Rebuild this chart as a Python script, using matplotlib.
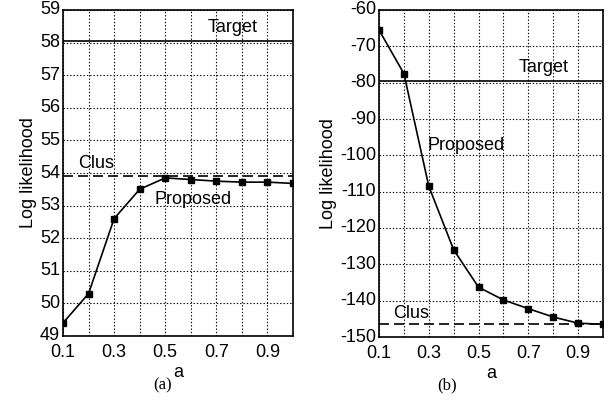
import matplotlib.pyplot as plt
import matplotlib.transforms as mtransforms
import numpy as np

plt.rcParams['font.family'] = ['Liberation Sans', 'DejaVu Sans']
plt.rcParams['axes.unicode_minus'] = False

a = [0.1, 0.2, 0.3, 0.4, 0.5, 0.6, 0.7, 0.8, 0.9, 1.0]
proposed_a = [49.4, 50.3, 52.6, 53.5, 53.85, 53.8, 53.75, 53.72, 53.72, 53.68]
target_a = 58.05
clus_a = 53.9
proposed_b = [-65.5, -77.5, -108.5, -126.0, -136.3, -139.8, -142.2, -144.5, -146.2, -146.5]
target_b = -79.5
clus_b = -146.3

fig = plt.figure(figsize=(6.12, 4.01), dpi=100)
ax1 = fig.add_axes([63/612, 1-336/401, 230/612, 326/401])
ax2 = fig.add_axes([379/612, 1-337/401, 224/612, 327/401])

def style(ax, ylim, ystep):
    ax.set_xlim(0.1, 1.0)
    ax.set_ylim(*ylim)
    ax.set_xticks([0.1, 0.3, 0.5, 0.7, 0.9])
    ax.set_xticklabels(['0.1', '0.3', '0.5', '0.7', '0.9'])
    ax.set_xticks(np.arange(0.2, 1.0, 0.2), minor=True)
    ax.set_yticks(np.arange(ylim[0], ylim[1] + ystep / 2, ystep))
    ax.tick_params(which='both', direction='in', labelsize=13, length=0)
    ax.tick_params(axis='x', pad=6)
    ax.tick_params(axis='y', pad=2)
    # nudge y tick labels up a little so the bottom one clears the x labels
    off = mtransforms.ScaledTranslation(0, 2/100, fig.dpi_scale_trans)
    for lab in ax.get_yticklabels():
        lab.set_transform(lab.get_transform() + off)
    ax.grid(True, which='both', color='k', linestyle=(0, (1.2, 1.8)), linewidth=0.8)
    for s in ax.spines.values():
        s.set_linewidth(1.2)
    ax.set_xlabel('a', fontsize=13, labelpad=2)
    ax.set_ylabel('Log likelihood', fontsize=13, labelpad=2)

style(ax1, (49, 59), 1)
style(ax2, (-150, -60), 10)

ax1.plot(a, proposed_a, 'k-', marker='s', markersize=5, linewidth=1.2)
ax1.axhline(target_a, color='k', linewidth=1.2)
ax1.axhline(clus_a, color='k', linewidth=1.2, linestyle=(0, (6, 3)))
ax1.text(0.765, 58.45, 'Target', fontsize=13, ha='center', va='center')
ax1.text(0.23, 54.3, 'Clus', fontsize=13, ha='center', va='center')
ax1.text(0.61, 53.2, 'Proposed', fontsize=13, ha='center', va='center')

ax2.plot(a, proposed_b, 'k-', marker='s', markersize=5, linewidth=1.2)
ax2.axhline(target_b, color='k', linewidth=1.2)
ax2.axhline(clus_b, color='k', linewidth=1.2, linestyle=(0, (6, 3)))
ax2.text(0.763, -75.7, 'Target', fontsize=13, ha='center', va='center')
ax2.text(0.229, -143.4, 'Clus', fontsize=13, ha='center', va='center')
ax2.text(0.45, -97.2, 'Proposed', fontsize=13, ha='center', va='center')

fig.text(163/612, 1-385/401, '(a)', fontsize=12, family='Liberation Serif', ha='center', va='center')
fig.text(447/612, 1-385/401, '(b)', fontsize=12, family='Liberation Serif', ha='center', va='center')

fig.savefig('out.png', dpi=100)
